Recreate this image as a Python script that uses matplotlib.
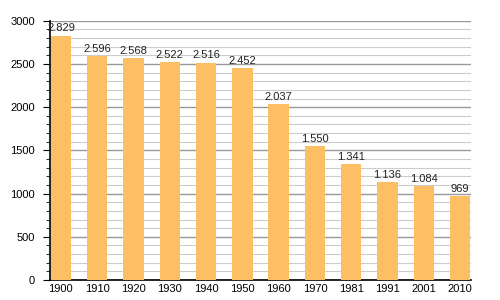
import matplotlib
matplotlib.use("Agg")
import matplotlib.pyplot as plt
from matplotlib.ticker import MultipleLocator

years = ["1900", "1910", "1920", "1930", "1940", "1950", "1960", "1970", "1981", "1991", "2001", "2010"]
population = [2829, 2596, 2568, 2522, 2516, 2452, 2037, 1550, 1341, 1136, 1084, 969]
labels = ["2.829", "2.596", "2.568", "2.522", "2.516", "2.452", "2.037", "1.550", "1.341", "1.136", "1.084", "969"]

plt.rcParams['font.family'] = ['Liberation Sans', 'DejaVu Sans']
fig = plt.figure(figsize=(5, 3), dpi=100)
ax = fig.add_axes([0.1, 0.0667, 0.842, 0.864])

x = list(range(len(years)))
ax.bar(x, population, width=0.56, color="#FDBF63", zorder=3)
for xi, v, lab in zip(x, population, labels):
    ax.text(xi, v + 25, lab, ha="center", va="bottom", fontsize=8, color="#222222", zorder=4)

ax.set_xlim(-0.3, 11.3)
ax.set_ylim(0, 3000)
ax.yaxis.set_major_locator(MultipleLocator(500))
ax.yaxis.set_minor_locator(MultipleLocator(100))
ax.grid(which="major", axis="y", color="#999999", linewidth=1.0, zorder=0)
ax.grid(which="minor", axis="y", color="#cccccc", linewidth=0.8, zorder=0)
ax.set_xticks(x)
ax.set_xticklabels(years)
ax.tick_params(axis="x", length=0, labelsize=8, pad=3)
ax.tick_params(axis="y", which="major", length=5, labelsize=8, pad=6)
ax.tick_params(axis="y", which="minor", length=3)
for s in ["top", "right"]:
    ax.spines[s].set_visible(False)
ax.spines["left"].set_linewidth(1.2)
ax.spines["bottom"].set_linewidth(1.2)

fig.savefig("out.png", dpi=100)
